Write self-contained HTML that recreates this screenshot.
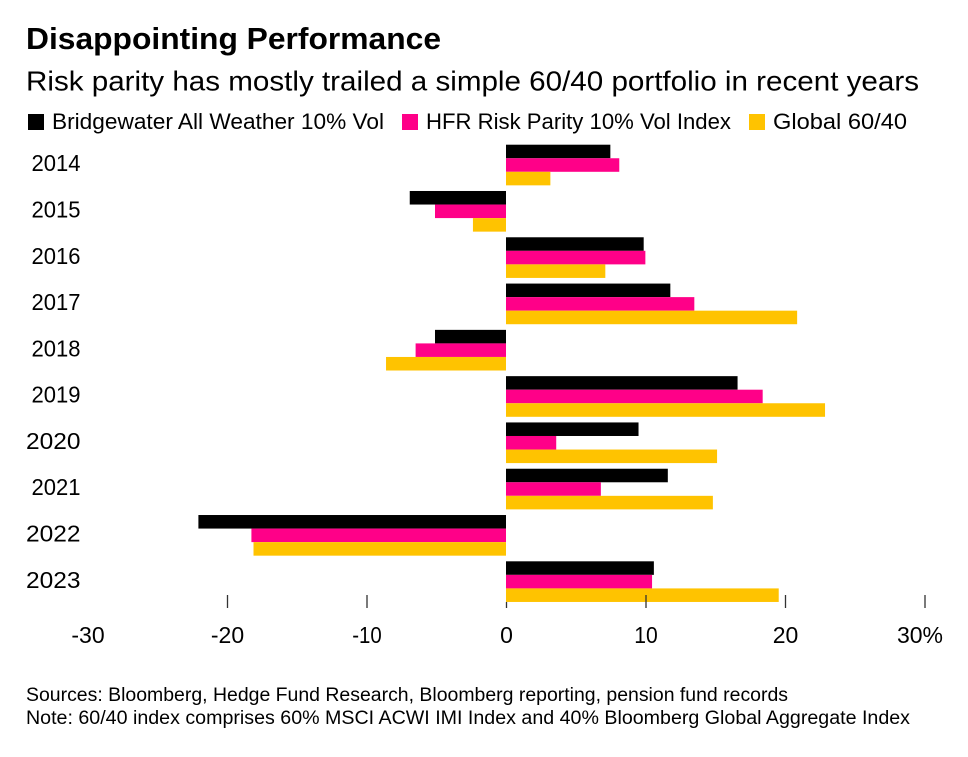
<!DOCTYPE html>
<html lang="en">
<head>
<meta charset="utf-8">
<title>Disappointing Performance</title>
<style>
html,body{margin:0;padding:0;background:#fff;}
svg{display:block;font-family:"Liberation Sans",sans-serif;fill:#000;}
</style>
</head>
<body>
<svg id="chart" xmlns="http://www.w3.org/2000/svg" width="968" height="757" viewBox="0 0 968 757">
  <rect x="0" y="0" width="968" height="757" fill="#fff"/>
  <text x="26" y="49" font-size="30.5" font-weight="700" textLength="415" lengthAdjust="spacingAndGlyphs">Disappointing Performance</text>
  <text x="26" y="90.5" font-size="27.5" textLength="893" lengthAdjust="spacingAndGlyphs">Risk parity has mostly trailed a simple 60/40 portfolio in recent years</text>

  <g>
    <g>
      <rect x="28" y="114" width="16" height="16" fill="#000"/>
      <text x="52" y="129" font-size="22" textLength="332" lengthAdjust="spacingAndGlyphs">Bridgewater All Weather 10% Vol</text>
    </g>
    <g>
      <rect x="402" y="114" width="16" height="16" fill="#ff0088"/>
      <text x="426" y="129" font-size="22" textLength="305" lengthAdjust="spacingAndGlyphs">HFR Risk Parity 10% Vol Index</text>
    </g>
    <g>
      <rect x="749" y="114" width="16" height="16" fill="#ffc300"/>
      <text x="773" y="129" font-size="22" textLength="134" lengthAdjust="spacingAndGlyphs">Global 60/40</text>
    </g>
  </g>

  <g id="year-labels"></g>
  <g id="bars"></g>
  <g id="x-axis"></g>

  <text x="26" y="701" font-size="19" textLength="762" lengthAdjust="spacingAndGlyphs">Sources: Bloomberg, Hedge Fund Research, Bloomberg reporting, pension fund records</text>
  <text x="26" y="724" font-size="19" textLength="884" lengthAdjust="spacingAndGlyphs">Note: 60/40 index comprises 60% MSCI ACWI IMI Index and 40% Bloomberg Global Aggregate Index</text>
</svg>
<script>
var years = ["2014","2015","2016","2017","2018","2019","2020","2021","2022","2023"];
var bridgewater = [7.48,-6.9,9.87,11.78,-5.09,16.6,9.5,11.6,-22.05,10.6];
var hfr = [8.12,-5.09,9.99,13.5,-6.48,18.4,3.6,6.8,-18.25,10.47];
var global6040 = [3.18,-2.37,7.12,20.87,-8.6,22.87,15.13,14.83,-18.1,19.55];
var xTicks = [-30,-20,-10,0,10,20,30];
var xTickLabels = ["-30","-20","-10","0","10","20","30%"];

var NS = "http://www.w3.org/2000/svg";
function xScale(v){ return 506 + v * 13.95; }
function rowTop(i){ return 144.7 + i * 46.29; }
var barH = 13.55;
var yearGroup = document.getElementById("year-labels");
var barGroup = document.getElementById("bars");
var axisGroup = document.getElementById("x-axis");

function makeBar(v, i, k, fill, seriesName){
  var r = document.createElementNS(NS, "rect");
  var x0 = xScale(0), x1 = xScale(v);
  r.setAttribute("x", Math.min(x0, x1));
  r.setAttribute("y", rowTop(i) + k * barH);
  r.setAttribute("width", Math.abs(x1 - x0));
  r.setAttribute("height", barH);
  r.setAttribute("fill", fill);
  
  
  barGroup.appendChild(r);
}

function oneCount(s){ return s.split("1").length - 1; }

years.forEach(function(y, i){
  var t = document.createElementNS(NS, "text");
  var w = 54.5 - 5.5 * oneCount(y);
  t.setAttribute("x", 80.5 - w);
  t.setAttribute("y", 171.2 + i * 46.29);
  t.setAttribute("font-size", "23");
  t.setAttribute("textLength", w);
  t.setAttribute("lengthAdjust", "spacingAndGlyphs");
  t.textContent = y;
  
  
  yearGroup.appendChild(t);
  makeBar(bridgewater[i], i, 0, "#000000", "bridgewater");
  makeBar(hfr[i], i, 1, "#ff0088", "hfr");
  makeBar(global6040[i], i, 2, "#ffc300", "global");
});

xTicks.forEach(function(v, i){
  var px = xScale(v) + 0.5;
  if (v !== -30) {
    var l = document.createElementNS(NS, "line");
    l.setAttribute("x1", px);
    l.setAttribute("x2", px);
    l.setAttribute("y1", v === 0 ? 602 : 595);
    l.setAttribute("y2", 608);
    l.setAttribute("stroke", "#333");
    l.setAttribute("stroke-width", "1.3");
    
    
    axisGroup.appendChild(l);
  }
  var t = document.createElementNS(NS, "text");
  var label = xTickLabels[i];
  t.setAttribute("x", v === 30 ? px - 5 : px);
  t.setAttribute("y", "643");
  t.setAttribute("font-size", "23");
  t.setAttribute("text-anchor", "middle");
  if (label.indexOf("1") >= 0) {
    t.setAttribute("textLength", label.length === 3 ? 29.5 : 23.5);
    t.setAttribute("lengthAdjust", "spacingAndGlyphs");
  }
  t.textContent = label;
  
  
  axisGroup.appendChild(t);
});
</script>
</body>
</html>
